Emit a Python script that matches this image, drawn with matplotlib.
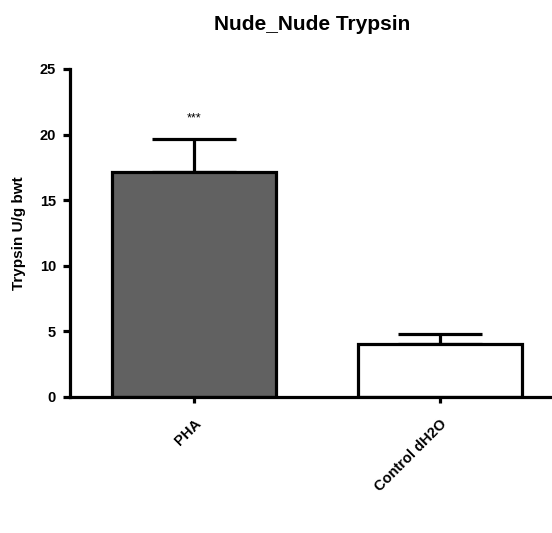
import matplotlib
matplotlib.use("Agg")
import matplotlib.pyplot as plt

categories = ["PHA", "Control dH2O"]
means = [17.15, 4.05]
errors = [2.55, 0.75]
colors = ["#616161", "#ffffff"]
yticks = [0, 5, 10, 15, 20, 25]
title = "Nude_Nude Trypsin"
ylabel = "Trypsin U/g bwt"
sig = "***"

plt.rcParams['font.family'] = ['Liberation Sans', 'DejaVu Sans']
plt.rcParams['font.weight'] = 'bold'

fig = plt.figure(figsize=(5.52, 5.33), dpi=100)
ax = fig.add_axes([70/552, (533-397)/533, 1 - 70/552, (397-69)/533])

x = list(range(len(categories)))
ax.bar(x, means, width=0.67, color=colors, edgecolor='black', linewidth=2.3, zorder=2)
ax.errorbar(x, means, yerr=[[0]*len(errors), errors], fmt='none', ecolor='black',
            elinewidth=2.3, capsize=30, capthick=2.3, zorder=1)

ax.text(0, means[0] + errors[0] + 1.5, sig, ha='center', va='center', fontsize=9, fontweight='normal')

ax.set_xlim(-0.504, 1.455)
ax.set_ylim(0, 25)
ax.set_yticks(yticks)
ax.set_xticks(x)
ax.set_xticklabels(categories, rotation=45, ha='right', va='top', rotation_mode='anchor', fontsize=10.5)
ax.tick_params(axis='x', length=4, width=2.3, pad=10)
ax.tick_params(axis='y', length=5, width=2.3, labelsize=10.5, pad=5)
for lbl in ax.get_yticklabels():
    lbl.set_fontweight('bold')
for lbl in ax.get_xticklabels():
    lbl.set_fontweight('bold')

for s in ['top', 'right']:
    ax.spines[s].set_visible(False)
for s in ['left', 'bottom']:
    ax.spines[s].set_linewidth(2.3)

ax.set_ylabel(ylabel, fontsize=11, fontweight='bold', labelpad=10)
fig.text(312/552, 1 - 24/533, title, ha='center', va='center', fontsize=15, fontweight='bold')

fig.savefig("out.png", dpi=100)
